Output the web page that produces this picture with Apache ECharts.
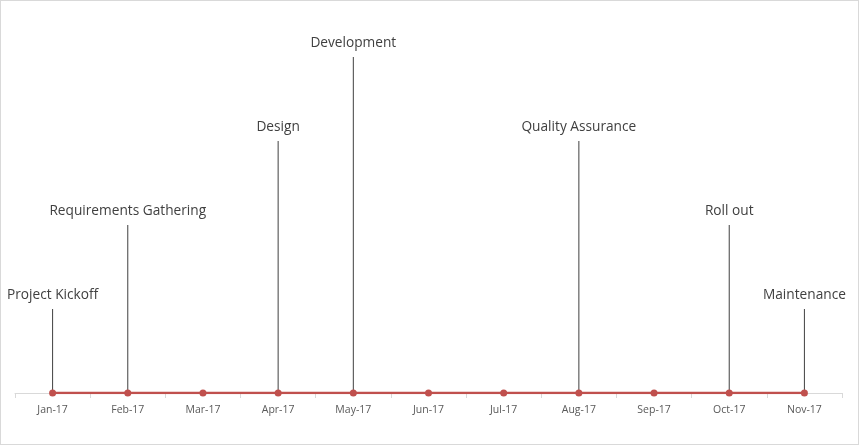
<!DOCTYPE html>
<html>
<head>
<meta charset="utf-8">
<script src="https://cdn.jsdelivr.net/npm/echarts@6/dist/echarts.min.js"></script>
<style>
html, body { margin: 0; padding: 0; background: #fff; }
#chart { width: 857px; height: 443px; border: 1px solid #d9d9d9; }
</style>
</head>
<body>
<div id="chart"></div>
<script>
var months = ["Jan-17", "Feb-17", "Mar-17", "Apr-17", "May-17", "Jun-17",
	"Jul-17", "Aug-17", "Sep-17", "Oct-17", "Nov-17"];
var baseline = [0, 0, 0, 0, 0, 0, 0, 0, 0, 0, 0];
var heights = [1, 2, null, 3, 4, null, null, 3, null, 2, 1];
var milestones = ["Project Kickoff", "Requirements Gathering", "", "Design", "Development", "",
	"", "Quality Assurance", "", "Roll out", "Maintenance"];

var myChart = echarts.init(document.getElementById('chart'));
myChart.setOption({
	animation : false,
	grid : {
		left : 14,
		right : 16,
		top : 56,
		bottom : 51
	},
	xAxis : [ {
		type : 'category',
		data : months,
		boundaryGap : true,
		axisLine : { lineStyle : { color : '#d9d9d9', width : 1 } },
		axisTick : { show : true, length : 5, lineStyle : { color : '#d9d9d9' } },
		axisLabel : {
			color : '#595959',
			fontFamily : 'Open Sans',
			fontSize : 10.5,
			margin : 12
		}
	} ],
	yAxis : [ {
		type : 'value',
		min : 0,
		max : 4,
		show : false
	} ],
	series : [ {
		name : 'Milestones',
		type : 'bar',
		barWidth : 1,
		barGap : '-100%',
		itemStyle : { color : '#404040' },
		data : heights,
		label : {
			show : true,
			position : 'top',
			distance : 7,
			color : '#404040',
			fontFamily : 'Open Sans',
			fontSize : 13.7,
			formatter : function(p) {
				return milestones[p.dataIndex];
			}
		},
		z : 2
	}, {
		name : 'Timeline',
		type : 'line',
		data : baseline,
		symbol : 'circle',
		symbolSize : 7,
		lineStyle : { color : '#c0504d', width : 2.5 },
		itemStyle : { color : '#c0504d' },
		z : 3
	} ]
});
</script>
</body>
</html>
